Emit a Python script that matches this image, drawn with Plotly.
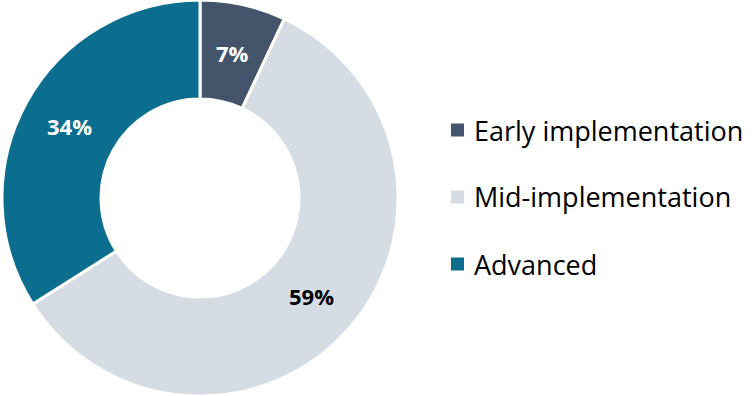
import math
import plotly.graph_objects as go

# Implementation stage breakdown (percent of respondents)
stages = ["Early implementation", "Mid-implementation", "Advanced"]
shares = [7, 59, 34]
colors = ["#44546A", "#D6DCE4", "#0B6E8E"]
label_colors = ["#FFFFFF", "#000000", "#FFFFFF"]

W, H = 755, 396
FONT = "Open Sans"
CX, CY, R = 200, 198, 198      # donut centre and outer radius in pixels
HOLE = 0.5
LABEL_R = R * (1 + HOLE) / 2   # labels sit at the middle of the ring

fig = go.Figure(
    go.Pie(
        labels=stages,
        values=shares,
        sort=False,
        direction="clockwise",
        rotation=0,
        hole=HOLE,
        marker=dict(colors=colors, line=dict(color="#FFFFFF", width=3)),
        textinfo="none",
        showlegend=False,
        domain=dict(x=[(CX - R) / W, (CX + R) / W], y=[0, 1]),
    )
)

annotations, shapes = [], []

# Percentage labels at each slice's mid-angle (clockwise from 12 o'clock)
total = sum(shares)
cum = 0
for v, tc in zip(shares, label_colors):
    mid = (cum + v / 2) / total * 2 * math.pi
    cum += v
    px = CX + LABEL_R * math.sin(mid)
    py = CY - LABEL_R * math.cos(mid)
    annotations.append(dict(
        text=f"<b>{v}%</b>", xref="paper", yref="paper",
        x=px / W, y=1 - py / H, xanchor="center", yanchor="middle",
        showarrow=False, font=dict(family=FONT, size=22, color=tc),
    ))

# Legend drawn as colored squares with labels to the right of the donut
y_centers = [130, 197, 264]
for name, col, yc in zip(stages, colors, y_centers):
    shapes.append(dict(
        type="rect", xref="paper", yref="paper",
        x0=451 / W, x1=464 / W,
        y0=1 - (yc + 6.5) / H, y1=1 - (yc - 6.5) / H,
        fillcolor=col, line=dict(width=0),
    ))
    annotations.append(dict(
        text=name, xref="paper", yref="paper",
        x=472 / W, y=1 - yc / H, xanchor="left", yanchor="middle",
        showarrow=False, font=dict(family=FONT, size=27, color="#000000"),
    ))

fig.update_layout(
    width=W, height=H,
    margin=dict(l=0, r=0, t=0, b=0),
    paper_bgcolor="#FFFFFF",
    plot_bgcolor="#FFFFFF",
    shapes=shapes,
    annotations=annotations,
)

fig.write_html("out.html")
